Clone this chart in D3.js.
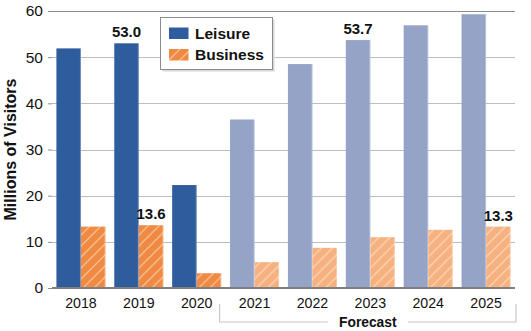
<!DOCTYPE html>
<html>
<head>
<meta charset="utf-8">
<script src="https://cdn.jsdelivr.net/npm/d3@7"></script>
<style>
  body { margin: 0; background: #fff; }
  svg { display: block; font-family: "Liberation Sans", Arial, sans-serif; }
</style>
</head>
<body>
<div id="chart"></div>
<script>
const years = ["2018", "2019", "2020", "2021", "2022", "2023", "2024", "2025"];
const leisure = [51.9, 53.0, 22.3, 36.5, 48.5, 53.7, 56.9, 59.3];
const business = [13.3, 13.6, 3.2, 5.6, 8.7, 11.0, 12.6, 13.3];
const forecastYears = ["2021", "2022", "2023", "2024", "2025"];
const yTicks = [0, 10, 20, 30, 40, 50, 60];
// which values get a label on top
const labelled = [
  { year: "2019", series: "Leisure", text: "53.0" },
  { year: "2019", series: "Business", text: "13.6" },
  { year: "2023", series: "Leisure", text: "53.7" },
  { year: "2025", series: "Business", text: "13.3" }
];

const width = 531, height = 331;
const margin = { top: 11, right: 16, bottom: 43, left: 52 };

const colors = {
  Leisure: { actual: "#2e5c9d", forecast: "#95a3c7" },
  Business: { actual: "#f08a42", forecast: "#f6b17f" }
};

const rows = years.map((y, i) => ({
  year: y,
  forecast: forecastYears.includes(y),
  values: [
    { series: "Leisure", value: leisure[i] },
    { series: "Business", value: business[i] }
  ]
}));

const svg = d3.select("#chart").append("svg")
  .attr("width", width)
  .attr("height", height);

const defs = svg.append("defs");
// diagonal hatch for the business bars
const hatch = defs.append("pattern")
  .attr("id", "hatch")
  .attr("patternUnits", "userSpaceOnUse")
  .attr("width", 11)
  .attr("height", 11);
hatch.append("path")
  .attr("d", "M-1,1 l2,-2 M0,11 l11,-11 M10,12 l2,-2")
  .attr("stroke", "#fff")
  .attr("stroke-opacity", 0.45)
  .attr("stroke-width", 1.3);

const x0 = d3.scaleBand()
  .domain(years)
  .range([margin.left, width - margin.right])
  .padding(0);

const x1 = d3.scaleBand()
  .domain(["Leisure", "Business"])
  .range([0, x0.bandwidth()])
  .paddingInner(0)
  .paddingOuter(0.18);

const y = d3.scaleLinear()
  .domain([0, 60])
  .range([height - margin.bottom, margin.top]);

// gridlines
svg.append("g")
  .selectAll("line")
  .data(yTicks.filter(d => d > 0))
  .join("line")
  .attr("x1", margin.left)
  .attr("x2", width - margin.right)
  .attr("y1", d => Math.round(y(d)) + 0.5)
  .attr("y2", d => Math.round(y(d)) + 0.5)
  .attr("stroke", d => d === 60 ? "#8c8c8c" : "#bdbdbd")
  .attr("stroke-width", 1.2);

// y axis
const yAxis = svg.append("g")
  .attr("transform", `translate(${margin.left},0)`)
  .call(d3.axisLeft(y).tickValues(yTicks).tickSize(4).tickPadding(5));
yAxis.select(".domain").remove();
yAxis.selectAll(".tick line").attr("stroke", "#8c8c8c");
yAxis.selectAll(".tick text")
  .attr("fill", "#111")
  .style("font-size", "15.5px")
  .style("font-family", "'Liberation Sans', Arial, sans-serif");

svg.append("text")
  .attr("transform", `translate(10,${y(30)}) rotate(-90)`)
  .attr("text-anchor", "middle")
  .attr("dy", "0.35em")
  .style("font-size", "16px")
  .style("font-weight", "bold")
  .attr("fill", "#111")
  .text("Millions of Visitors");

// bars
const groups = svg.append("g")
  .selectAll("g")
  .data(rows)
  .join("g")
  .attr("transform", d => `translate(${x0(d.year)},0)`);

groups.selectAll("rect.bar")
  .data(d => d.values.map(v => ({ ...v, forecast: d.forecast })))
  .join("rect")
  .attr("class", "bar")
  .attr("x", d => x1(d.series))
  .attr("width", x1.bandwidth())
  .attr("y", d => y(d.value))
  .attr("height", d => y(0) - y(d.value))
  .attr("fill", d => d.forecast ? colors[d.series].forecast : colors[d.series].actual);

groups.selectAll("rect.hatch")
  .data(d => d.values.filter(v => v.series === "Business"))
  .join("rect")
  .attr("class", "hatch")
  .attr("x", d => x1(d.series))
  .attr("width", x1.bandwidth())
  .attr("y", d => y(d.value))
  .attr("height", d => y(0) - y(d.value))
  .attr("fill", "url(#hatch)");

// light right edge on each bar
groups.selectAll("line.edge")
  .data(d => d.values)
  .join("line")
  .attr("class", "edge")
  .attr("x1", d => x1(d.series) + x1.bandwidth() - 0.5)
  .attr("x2", d => x1(d.series) + x1.bandwidth() - 0.5)
  .attr("y1", d => y(d.value))
  .attr("y2", y(0))
  .attr("stroke", "#fff")
  .attr("stroke-opacity", 0.3);

// baseline
svg.append("line")
  .attr("x1", margin.left)
  .attr("x2", width - margin.right)
  .attr("y1", y(0))
  .attr("y2", y(0))
  .attr("stroke", "#7f7f7f")
  .attr("stroke-width", 2);

// value labels
svg.append("g")
  .selectAll("text")
  .data(labelled)
  .join("text")
  .attr("x", d => x0(d.year) + x1(d.series) + x1.bandwidth() / 2)
  .attr("y", d => {
    const i = years.indexOf(d.year);
    const v = d.series === "Leisure" ? leisure[i] : business[i];
    return y(v) - 6;
  })
  .attr("text-anchor", "middle")
  .style("font-size", "15px")
  .style("font-weight", "bold")
  .attr("fill", "#111")
  .text(d => d.text);

// x axis labels
const xAxis = svg.append("g")
  .attr("transform", `translate(0,${y(0)})`)
  .call(d3.axisBottom(x0).tickSize(0).tickPadding(10));
xAxis.select(".domain").remove();
xAxis.selectAll(".tick text")
  .attr("fill", "#111")
  .style("font-size", "14.2px")
  .style("font-family", "'Liberation Sans', Arial, sans-serif");

// forecast bracket
const fx0 = x0(forecastYears[0]) - 6;
const fx1 = width - margin.right + 1;
const by = 322;
const fMid = (fx0 + fx1) / 2;
const bracket = svg.append("g")
  .attr("stroke", "#c8c8c8")
  .attr("stroke-width", 1.2)
  .attr("fill", "none");
bracket.append("path")
  .attr("d", `M${fx0},304 V${by} H${fMid - 40}`);
bracket.append("path")
  .attr("d", `M${fx1},304 V${by} H${fMid + 40}`);
svg.append("text")
  .attr("x", fMid)
  .attr("y", by + 5)
  .attr("text-anchor", "middle")
  .style("font-size", "13.8px")
  .style("font-weight", "bold")
  .attr("fill", "#111")
  .text("Forecast");

// legend
const legend = svg.append("g").attr("transform", "translate(160.5,17.5)");
legend.append("rect")
  .attr("x", 2).attr("y", 2)
  .attr("width", 112).attr("height", 52)
  .attr("fill", "#d8d8d8");
legend.append("rect")
  .attr("width", 112).attr("height", 52)
  .attr("fill", "#fff")
  .attr("stroke", "#8c8c8c");
const items = [
  { name: "Leisure", color: colors.Leisure.actual, y: 10 },
  { name: "Business", color: colors.Business.actual, y: 31.5 }
];
const li = legend.selectAll("g.item")
  .data(items)
  .join("g")
  .attr("class", "item")
  .attr("transform", d => `translate(8.5,${d.y})`);
li.append("rect")
  .attr("width", 19.5)
  .attr("height", 11.5)
  .attr("fill", d => d.color);
li.filter(d => d.name === "Business").append("rect")
  .attr("width", 19.5)
  .attr("height", 11.5)
  .attr("fill", "url(#hatch)");
li.append("text")
  .attr("x", 26)
  .attr("y", 6)
  .attr("dy", "0.35em")
  .style("font-size", "15.5px")
  .style("font-weight", "bold")
  .attr("fill", "#111")
  .text(d => d.name);
</script>
</body>
</html>
